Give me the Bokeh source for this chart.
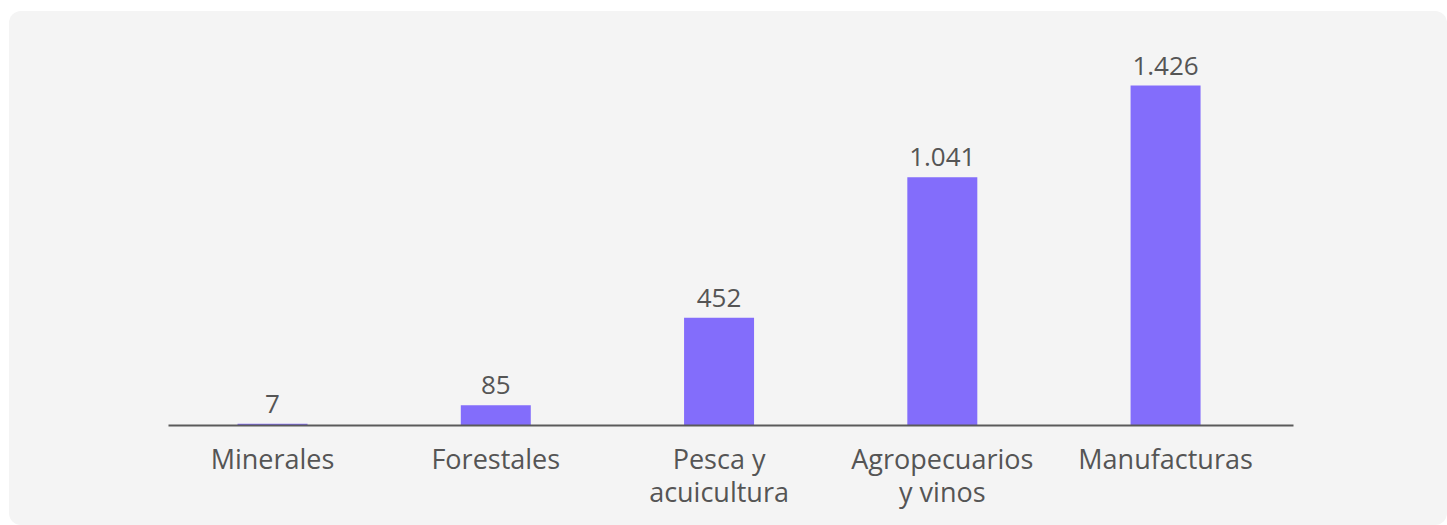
from bokeh.plotting import figure
from bokeh.models import Range1d, FixedTicker, ColumnDataSource
from bokeh.core.properties import value
from bokeh.embed import file_html
from bokeh.resources import INLINE

categories = ["Minerales", "Forestales", "Pesca y\nacuicultura", "Agropecuarios\ny vinos", "Manufacturas"]
values = [7, 85, 452, 1041, 1426]
value_labels = ["7", "85", "452", "1.041", "1.426"]

xs = list(range(len(categories)))
src = ColumnDataSource(dict(x=xs, top=values, lbl=value_labels))

FONT = "Open Sans"
TXT = "#555555"

p = figure(width=1438, height=514, output_backend="svg", toolbar_location=None,
           x_range=Range1d(-0.466, 4.573), y_range=Range1d(0, 1611),
           y_axis_location=None, min_border_left=159, min_border_right=154,
           min_border_top=30, min_border_bottom=100,
           background_fill_alpha=0, border_fill_alpha=0,
           outline_line_color=None)
p.margin = (11, 0, 0, 9)
p.styles = {"border-radius": "12px", "overflow": "hidden", "background-color": "#F4F4F4"}
p.grid.visible = False

p.vbar(x="x", top="top", bottom=0, width=0.3135, source=src,
       fill_color="#836DFB", line_color=None)

p.text(x="x", y="top", text="lbl", source=src, text_align="center",
       text_baseline="alphabetic", y_offset=-20, text_color=TXT,
       text_font=value(FONT), text_font_size="26px")

ax = p.xaxis[0]
ax.ticker = FixedTicker(ticks=xs)
ax.major_label_overrides = {i: c for i, c in enumerate(categories)}
ax.major_tick_line_color = None
ax.minor_tick_line_color = None
ax.axis_line_color = "#5A5A5A"
ax.axis_line_width = 2
ax.major_label_text_font = FONT
ax.major_label_text_font_size = "27px"
ax.major_label_text_color = TXT
ax.major_label_text_line_height = 0.9
ax.major_label_standoff = 8

open("out.html", "w").write(file_html(p, INLINE))
